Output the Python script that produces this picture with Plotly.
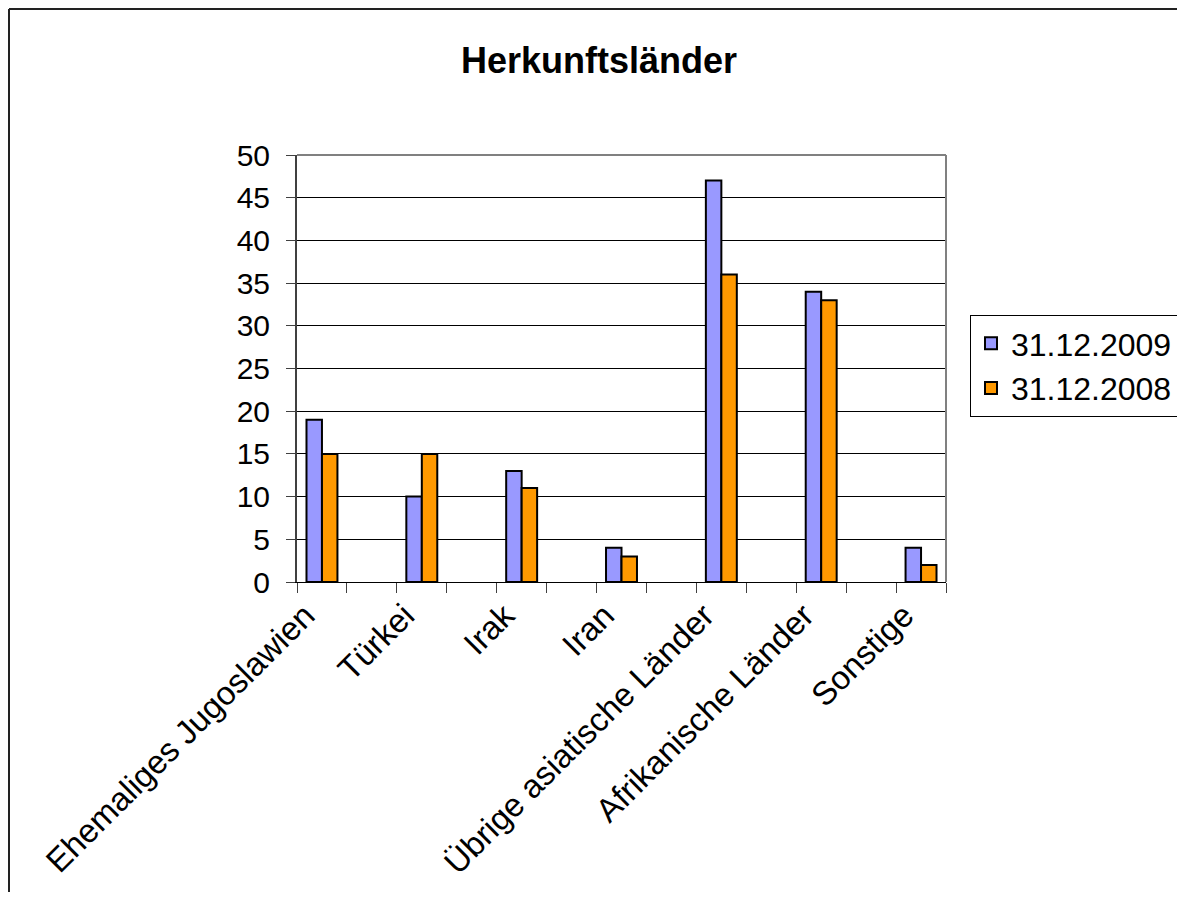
import plotly.graph_objects as go

# data
categories = [
    "Ehemaliges Jugoslawien",
    "Türkei",
    "Irak",
    "Iran",
    "Übrige asiatische Länder",
    "Afrikanische Länder",
    "Sonstige",
]
values_2009 = [19, 10, 13, 4, 47, 34, 4]
values_2008 = [15, 15, 11, 3, 36, 33, 2]
series_names = ["31.12.2009", "31.12.2008"]
series_colors = ["#9999FF", "#FF9900"]

# the original chart has an empty category between every real one
category_order = []
for i, c in enumerate(categories):
    category_order.append(c)
    if i < len(categories) - 1:
        category_order.append(" " * (i + 1))

FONT = "Liberation Sans, Arial, sans-serif"

# page body has an 8px margin, so the figure is a bit smaller than the window
W, H = 1169, 884
L, T = 289, 147
PW, PH = 649, 427

fig = go.Figure()
for name, vals, color, off in zip(series_names, [values_2009, values_2008], series_colors, [-0.31, 0.0]):
    fig.add_trace(
        go.Bar(
            x=categories,
            y=vals,
            name=name,
            width=0.31,
            offset=off,
            marker=dict(color=color, line=dict(color="black", width=2)),
        )
    )

fig.update_layout(
    width=W,
    height=H,
    paper_bgcolor="white",
    plot_bgcolor="white",
    barmode="overlay",
    font=dict(family=FONT, color="black", size=31),
    margin=dict(l=L, r=W - L - PW, t=T, b=H - T - PH, pad=0),
    title=dict(
        text="<b>Herkunftsländer</b>",
        font=dict(size=36, family=FONT, color="black"),
        x=(599 - 8) / W,
        xref="container",
        xanchor="center",
        y=1 - (60 - 8) / H,
        yref="container",
        yanchor="middle",
    ),
    legend=dict(
        xref="container",
        yref="container",
        x=962 / W,
        xanchor="left",
        y=1 - 307 / H,
        yanchor="top",
        bordercolor="black",
        borderwidth=1,
        bgcolor="white",
        font=dict(size=32, family=FONT),
        itemwidth=30,
        tracegroupgap=0,
    ),
    showlegend=True,
)

fig.update_xaxes(
    type="category",
    categoryorder="array",
    categoryarray=category_order,
    tickson="boundaries",
    ticks="outside",
    ticklen=10,
    tickcolor="#404040",
    tickangle=-45,
    showline=True,
    linecolor="black",
    linewidth=1,
    showgrid=False,
    tickfont=dict(size=33, family=FONT),
    ticklabelshift=-17,
)
fig.update_yaxes(
    range=[0, 50],
    dtick=5,
    ticks="outside",
    ticklen=9,
    tickcolor="#404040",
    showline=True,
    linecolor="#404040",
    linewidth=2,
    showgrid=True,
    gridcolor="black",
    gridwidth=1,
    zeroline=False,
    tickfont=dict(size=30, family=FONT),
    ticklabelstandoff=10,
)

# grey frame on top and right of the plot area
fig.add_shape(type="line", xref="x domain", yref="y domain", x0=0, x1=1, y0=1, y1=1,
              line=dict(color="#808080", width=2), layer="above")
fig.add_shape(type="line", xref="x domain", yref="y domain", x0=1, x1=1, y0=0, y1=1,
              line=dict(color="#808080", width=2), layer="above")
# outer chart border: left edge and top edge, ending at the right side of the figure
bx0 = (1 - L) / PW
bx1 = (W - L) / PW
by0 = -(H - T - PH) / PH
by1 = (T + PH - 1) / PH
fig.add_shape(type="line", xref="paper", yref="paper", x0=bx0, x1=bx0, y0=by0, y1=by1,
              line=dict(color="#222222", width=2), layer="below")
fig.add_shape(type="line", xref="paper", yref="paper", x0=bx0, x1=bx1, y0=by1, y1=by1,
              line=dict(color="#222222", width=2), layer="below")

fig.write_html("out.html")
